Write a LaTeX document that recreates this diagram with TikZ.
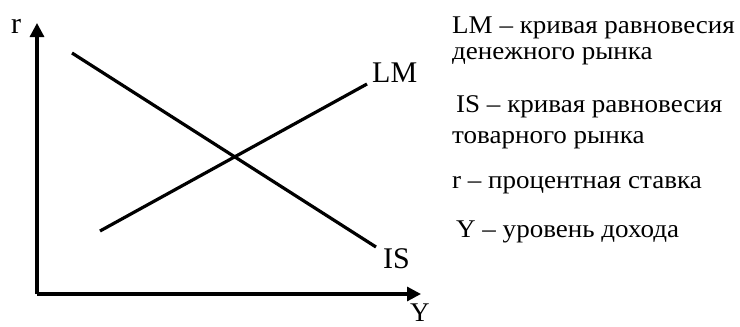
\documentclass[tikz,border=0pt]{standalone}
\usepackage{fontspec}
\setmainfont{Liberation Serif}
\newfontfamily\legendfont[FakeStretch=1.06,Ligatures=TeX]{Liberation Serif}
\usetikzlibrary{arrows.meta}
\begin{document}
\begin{tikzpicture}[x=1pt,y=-1pt,
  axis/.style={line width=3.2pt,-{Triangle[length=14pt,width=14pt]}},
  curve/.style={line width=3.2pt},
  glabel/.style={font=\fontsize{30}{30}\selectfont,inner sep=0pt},
  legend/.style={font=\legendfont\fontsize{25.5}{26}\selectfont,inner sep=0pt,anchor=base west}]
\useasboundingbox[fill=white] (0,0) rectangle (740,327);
\coordinate (O) at (37,294);
\coordinate (ytip) at (37,23);
\coordinate (xtip) at (421,294);
\draw[axis] (O) -- (ytip);
\draw[axis] (O) -- (xtip);
\coordinate (is1) at (72,53);
\coordinate (is2) at (376,247);
\coordinate (lm1) at (100,231);
\coordinate (lm2) at (367,84);
\draw[curve] (is1) -- (is2);
\draw[curve] (lm1) -- (lm2);
\node[glabel,anchor=base west] (r) at (11,33) {r};
\node[glabel,font=\fontsize{27}{27}\selectfont,anchor=base west] (Y) at (410,321) {Y};
\node[glabel,anchor=base west] (LM) at (372,82) {LM};
\node[glabel,anchor=base west] (IS) at (383,268) {IS};
\node[legend] (t1) at (452,33) {LM – кривая равновесия};
\node[legend] (t2) at (452,59) {денежного рынка};
\node[legend] (t3) at (456,112) {IS – кривая равновесия};
\node[legend] (t4) at (452,143) {товарного рынка};
\node[legend] (t5) at (452,188) {r – процентная ставка};
\node[legend] (t6) at (456,237) {Y – уровень дохода};
\end{tikzpicture}
\end{document}
